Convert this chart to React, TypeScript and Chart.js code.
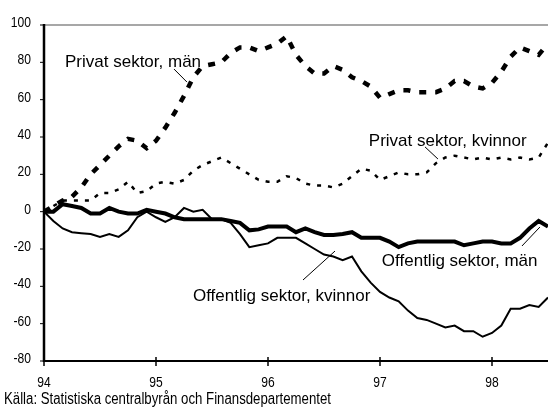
import React, { useEffect, useRef } from "react";
import { Chart, registerables } from "chart.js";

Chart.register(...registerables);

// Monthly index, Jan 1994 = 0 ... Jul 1998 = 54
const yearLabels = ["94", "95", "96", "97", "98"];
const yTicks = [-80, -60, -40, -20, 0, 20, 40, 60, 80, 100];

const privatMan = [
  0, 3, 6, 8, 13, 20, 25, 30, 35, 39, 38, 34, 38, 45, 53, 62, 72, 78, 79, 80,
  85, 88, 88, 86, 88, 90, 94, 84, 78, 74, 74, 78, 76, 72, 70, 67, 61, 63, 65, 65,
  64, 64, 64, 66, 70, 70, 67, 66, 69, 75, 83, 88, 86, 84, 90,
];
const privatKvinnor = [
  0, 3, 6, 6, 6, 6, 10, 10, 12, 16, 10, 11, 15, 16, 15, 17, 22, 25, 27, 29,
  26, 23, 20, 17, 16, 16, 19, 18, 15, 14, 14, 13, 15, 19, 23, 22, 17, 19, 21, 20,
  20, 21, 26, 29, 30, 29, 28, 29, 28, 29, 28, 29, 28, 29, 37,
];
const offentligMan = [
  0, 0, 4, 3, 2, -1, -1, 2, 0, -1, -1, 1, 0, -1, -3, -4, -4, -4, -4, -4,
  -5, -6, -10, -9.5, -8, -8, -8, -11, -9, -11, -12.5, -12.5, -12, -11, -14, -14, -14, -16, -19, -17,
  -16, -16, -16, -16, -16, -18, -17, -16, -16, -17, -17, -14, -9, -5, -8,
];
const offentligKvinnor = [
  0, -5, -9, -11, -11.5, -12, -13.5, -12, -13.5, -10, -3, 0, -3, -5.5, -3, 2, 0, 1, -4, -4,
  -6, -12, -19, -18, -17, -14, -14, -14, -17, -20, -23, -24, -26, -24, -32, -38, -43, -46, -48, -53,
  -57, -58, -60, -62, -61, -64, -64, -67, -65, -61, -52, -52, -50, -51, -46,
];

const seriesNames = [
  "Privat sektor, män",
  "Privat sektor, kvinnor",
  "Offentlig sektor, män",
  "Offentlig sektor, kvinnor",
];

// Annotation labels in data coordinates (month index, value)
const labelPos = [
  { x: 2.25, y: 77.5 },
  { x: 34.8, y: 35.2 },
  { x: 36.2, y: -29.1 },
  { x: 15.96, y: -47.9 },
];
const leaderLines = [
  [13.93, 76.4, 15.32, 69.4],
  [40.82, 34.7, 42.21, 28.2],
  [51.21, -18.4, 53.14, -8.2],
  [27.75, -36.6, 31.18, -21.1],
];
const caption = "Källa: Statistiska centralbyrån och Finansdepartementet";

const sans = '"Liberation Sans", Arial, sans-serif';

const toPoints = (arr: number[]) => arr.map((v, i) => ({ x: i, y: v }));

// draw text condensed horizontally (narrow face look-alike)
function narrowText(ctx: CanvasRenderingContext2D, text: string, x: number, y: number, squeeze: number) {
  const w = ctx.measureText(text).width;
  ctx.fillText(text, x, y, w * squeeze);
}

export default function App() {
  const ref = useRef<HTMLCanvasElement | null>(null);

  useEffect(() => {
    if (!ref.current) return;

    const decor = {
      id: "decor",
      afterDatasetsDraw(chart: any) {
        const ctx = chart.ctx;
        const xs = chart.scales.x;
        const ys = chart.scales.y;
        const { left, right, top, bottom } = chart.chartArea;
        ctx.save();
        // top gray line
        ctx.strokeStyle = "#8a8a8a";
        ctx.lineWidth = 1.5;
        ctx.beginPath();
        ctx.moveTo(left, top);
        ctx.lineTo(right, top);
        ctx.stroke();
        // left axis
        ctx.strokeStyle = "#000";
        ctx.lineWidth = 2.5;
        ctx.beginPath();
        ctx.moveTo(left, top - 1);
        ctx.lineTo(left, bottom + 1);
        ctx.stroke();
        // bottom axis
        ctx.lineWidth = 2;
        ctx.beginPath();
        ctx.moveTo(left, bottom);
        ctx.lineTo(right, bottom);
        ctx.stroke();
        // x ticks
        ctx.lineWidth = 1.5;
        yearLabels.forEach((_, i) => {
          const px = xs.getPixelForValue(i * 12);
          ctx.beginPath();
          ctx.moveTo(px, bottom - 4);
          ctx.lineTo(px, bottom + 5);
          ctx.stroke();
        });
        // y ticks
        ctx.lineWidth = 1;
        yTicks.forEach((v) => {
          const py = ys.getPixelForValue(v);
          ctx.beginPath();
          ctx.moveTo(left - 4, py);
          ctx.lineTo(left, py);
          ctx.stroke();
        });
        // tick labels (narrow look)
        ctx.fillStyle = "#000";
        ctx.font = `15.5px ${sans}`;
        ctx.textBaseline = "alphabetic";
        ctx.textAlign = "right";
        yTicks.forEach((v) => {
          const py = ys.getPixelForValue(v);
          narrowText(ctx, String(v), left - 13, py + 2, 0.78);
        });
        ctx.textAlign = "center";
        yearLabels.forEach((lab, i) => {
          const px = xs.getPixelForValue(i * 12);
          narrowText(ctx, lab, px, bottom + 26, 0.78);
        });
        // leader lines
        ctx.lineWidth = 1;
        leaderLines.forEach(([x1, y1, x2, y2]) => {
          ctx.beginPath();
          ctx.moveTo(xs.getPixelForValue(x1), ys.getPixelForValue(y1));
          ctx.lineTo(xs.getPixelForValue(x2), ys.getPixelForValue(y2));
          ctx.stroke();
        });
        // labels
        ctx.font = `17px ${sans}`;
        ctx.textAlign = "left";
        ctx.textBaseline = "alphabetic";
        seriesNames.forEach((name, i) => {
          const p = labelPos[i];
          ctx.fillText(name, xs.getPixelForValue(p.x), ys.getPixelForValue(p.y));
        });
        // caption
        ctx.font = `16px ${sans}`;
        ctx.textBaseline = "alphabetic";
        ctx.fillText(caption, 4, 404, 327);
        ctx.restore();
      },
    };

    const chart = new Chart(ref.current, {
      type: "line",
      data: {
        datasets: [
          {
            label: seriesNames[0],
            data: toPoints(privatMan),
            borderColor: "#000",
            borderWidth: 4.5,
            borderDash: [7, 9],
            borderCapStyle: "butt",
            pointRadius: 0,
            tension: 0,
          },
          {
            label: seriesNames[1],
            data: toPoints(privatKvinnor),
            borderColor: "#000",
            borderWidth: 2.5,
            borderDash: [4, 7],
            borderCapStyle: "butt",
            pointRadius: 0,
            tension: 0,
          },
          {
            label: seriesNames[2],
            data: toPoints(offentligMan),
            borderColor: "#000",
            borderWidth: 4,
            pointRadius: 0,
            tension: 0,
          },
          {
            label: seriesNames[3],
            data: toPoints(offentligKvinnor),
            borderColor: "#000",
            borderWidth: 2,
            pointRadius: 0,
            tension: 0,
          },
        ],
      },
      options: {
        responsive: false,
        maintainAspectRatio: false,
        animation: false,
        layout: { padding: { top: 25, left: 0, right: 0, bottom: 0 } },
        plugins: { legend: { display: false }, tooltip: { enabled: false } },
        scales: {
          x: {
            type: "linear",
            min: 0,
            max: 54,
            grid: { display: false, drawTicks: false },
            border: { display: false },
            ticks: { display: false, stepSize: 12 },
            afterFit: (s: any) => {
              s.height = 46;
            },
          },
          y: {
            min: -80,
            max: 100,
            grid: { display: false, drawTicks: false },
            border: { display: false },
            ticks: { display: false, stepSize: 20 },
            afterFit: (s: any) => {
              s.width = 44;
            },
          },
        },
      },
      plugins: [decor],
    } as any);

    return () => chart.destroy();
  }, []);

  return (
    <div style={{ position: "fixed", left: 0, top: 0, width: 548, height: 407, background: "#fff" }}>
      <canvas ref={ref} width={548} height={407} />
    </div>
  );
}
